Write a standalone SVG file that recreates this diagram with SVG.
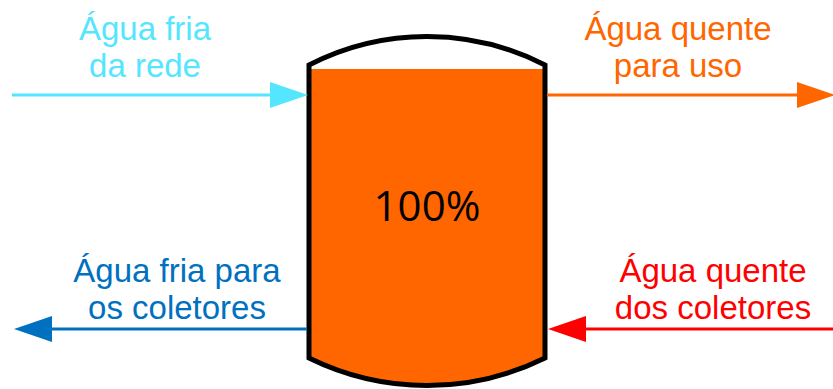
<svg xmlns="http://www.w3.org/2000/svg" width="833" height="389" viewBox="0 0 833 389">
  <style>
    .lbl { font-family: "Liberation Sans", Arial, sans-serif; font-size: 33px; text-anchor: middle; }
    .flow { fill: none; stroke-width: 3; }
    .pct { font-family: "Open Sans", "Liberation Sans", sans-serif; font-size: 42px; text-anchor: middle; fill: #000; }
  </style>
  <defs>
    <marker id="headCyan" markerUnits="userSpaceOnUse" markerWidth="38" markerHeight="26" viewBox="0 0 38 26" refX="0" refY="13" orient="auto">
      <path d="M0,0 L38,13 L0,26 Z" fill="#55E6FF"/>
    </marker>
    <marker id="headOrange" markerUnits="userSpaceOnUse" markerWidth="38" markerHeight="26" viewBox="0 0 38 26" refX="0" refY="13" orient="auto">
      <path d="M0,0 L38,13 L0,26 Z" fill="#FF6600"/>
    </marker>
    <marker id="headBlue" markerUnits="userSpaceOnUse" markerWidth="38" markerHeight="26" viewBox="0 0 38 26" refX="0" refY="13" orient="auto">
      <path d="M0,0 L38,13 L0,26 Z" fill="#0070C0"/>
    </marker>
    <marker id="headRed" markerUnits="userSpaceOnUse" markerWidth="38" markerHeight="26" viewBox="0 0 38 26" refX="0" refY="13" orient="auto">
      <path d="M0,0 L38,13 L0,26 Z" fill="#FF0000"/>
    </marker>
  </defs>

  <rect width="833" height="389" fill="#fff"/>

  <!-- storage tank -->
  <g id="tank">
    <path d="M309,69 H545 V358 A267,267 0 0 1 309,358 Z" fill="#FF6600"/>
    <path d="M309,65 A258.5,258.5 0 0 1 545,65 V358 A267,267 0 0 1 309,358 Z" fill="none" stroke="#000" stroke-width="5" stroke-linejoin="miter"/>
    <text class="pct" x="427" y="221">100%</text>
  </g>

  <!-- pipes in and out of the tank -->
  <g id="connectors">
    <path class="flow" d="M12,95 H270" stroke="#55E6FF" marker-end="url(#headCyan)"/>
    <path class="flow" d="M547,95 H797" stroke="#FF6600" marker-end="url(#headOrange)"/>
    <path class="flow" d="M307,329 H52" stroke="#0070C0" marker-end="url(#headBlue)"/>
    <path class="flow" d="M833,329 H586" stroke="#FF0000" marker-end="url(#headRed)"/>
  </g>

  <g id="cold-supply">
    <text class="lbl" fill="#55E6FF"><tspan x="145" y="40">Água fria</tspan><tspan x="145" y="77">da rede</tspan></text>
  </g>
  <g id="hot-use">
    <text class="lbl" fill="#FF6600"><tspan x="678" y="40">Água quente</tspan><tspan x="678" y="77">para uso</tspan></text>
  </g>
  <g id="cold-to-collectors">
    <text class="lbl" fill="#0070C0"><tspan x="177" y="282">Água fria para</tspan><tspan x="177" y="319">os coletores</tspan></text>
  </g>
  <g id="hot-from-collectors">
    <text class="lbl" fill="#FF0000"><tspan x="713" y="282">Água quente</tspan><tspan x="713" y="319">dos coletores</tspan></text>
  </g>
</svg>
